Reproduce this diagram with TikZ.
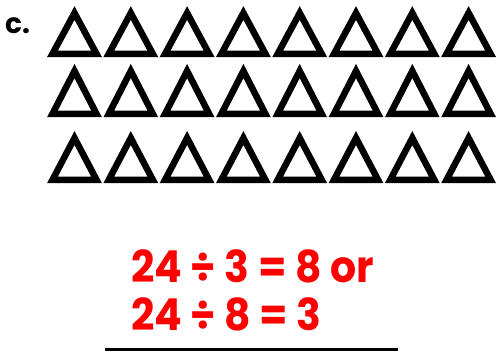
\documentclass[tikz,border=0pt]{standalone}
\usepackage{fontspec}
\setmainfont{Poppins}
\begin{document}
\begin{tikzpicture}[x=1pt,y=-1pt,
  tri/.style={draw=black,line width=6.5pt,line join=miter},
  eq/.style={text=red,font=\fontsize{44}{48}\selectfont\bfseries,anchor=base west,inner sep=0pt,xscale=0.93}]
\useasboundingbox (0,0) rectangle (498,354);
\node[font=\fontsize{28}{32}\selectfont\bfseries,anchor=base west,inner sep=0pt] (lab) at (5,33) {c.};
\foreach \r/\top/\bot in {1/6/57,2/64/117,3/131/183}{
  \foreach \c in {0,...,7}{
    \pgfmathsetmacro{\L}{48.5+56.3*\c}
    \draw[tri] (\L+4,\bot-3.2) -- (\L+26,\top+7) -- (\L+48,\bot-3.2) -- cycle;
  }
}
\node[eq] (e1) at (131,282) {24 ÷ 3 = 8 or};
\node[eq] (e2) at (131,330) {24 ÷ 8 = 3};
\coordinate (la) at (105,349);
\coordinate (lb) at (398,349);
\draw[line width=3pt] (la) -- (lb);
\end{tikzpicture}
\end{document}
